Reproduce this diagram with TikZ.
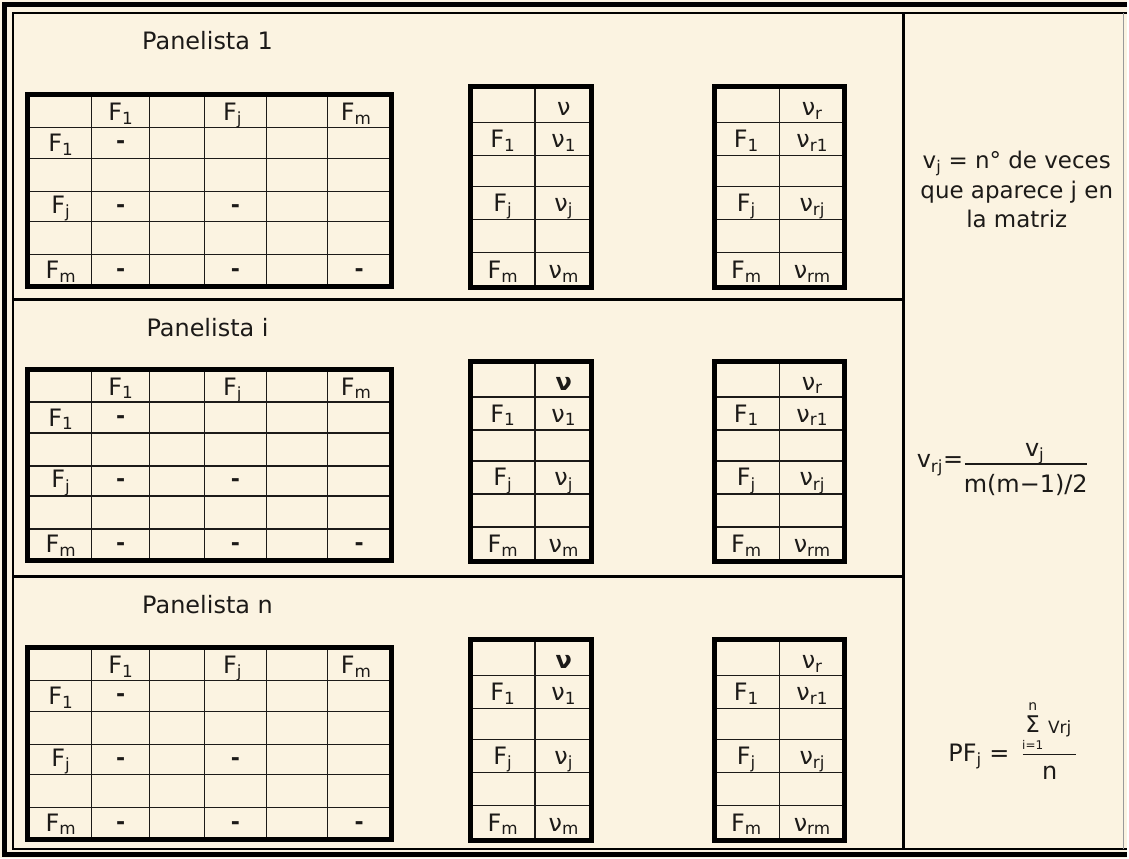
\documentclass[tikz,border=0pt]{standalone}
\usepackage{fontspec}
\usepackage{amsmath}
\setmainfont{DejaVu Sans}
\usetikzlibrary{positioning}
\definecolor{parchment}{RGB}{251,243,225}
\definecolor{ink}{RGB}{28,26,24}
\newcommand{\sub}[1]{\ensuremath{_{\text{#1}}}}

\begin{document}
\begin{tikzpicture}[
    x=1pt, y=-1pt,
    font=\fontsize{24}{30}\selectfont,
    cell/.style={anchor=base, inner sep=0pt, text=ink},
    dashmark/.style={cell, font=\fontsize{22}{29}\selectfont\bfseries},
    title/.style={anchor=base, inner sep=0pt, text=ink},
    note/.style={align=center, inner sep=0pt, text=ink, font=\fontsize{23}{29.5}\selectfont},
    gridline/.style={line width=1.4pt, ink},
    boxline/.style={line width=5pt, black},
    divider/.style={line width=2.5pt, black}
  ]

    % --- Background and frame ---
    \fill[parchment] (0,0) rectangle (1129,860);
    \draw[line width=5pt, black] (1129,5) -- (5,5) -- (5,856) -- (1129,856);
    \draw[line width=2.5pt, black] (1129,13) -- (13,13) -- (13,851) -- (1129,851);
    \draw[line width=1pt, black!40] (1126,13) -- (1126,851);

    % --- Dividers ---
    \draw[line width=3pt, black] (905,13) -- (905,851);
    \draw[divider] (13,300) -- (905,300);
    \draw[divider] (13,578) -- (905,578);

    % --- Panels ---
    \foreach \dy/\ty/\pn/\nuhead in {0/50/1/{ν}, 275/337/i/{\textbf{ν}}, 554/615/n/{\textbf{ν}}} {

      % Title
      \node[title] (title-\pn) at (208,\ty) {Panelista \pn};

      % Comparison matrix
      \foreach \cx in {92,150,205,267,328}
        \draw[gridline] (\cx,95+\dy) -- (\cx,287+\dy);
      \foreach \ry in {128,159,192,222,255}
        \draw[gridline] (28,\ry+\dy) -- (392,\ry+\dy);
      \draw[boxline] (28,95+\dy) rectangle (392,287+\dy);

      \foreach \s/\cx in {1/121, j/233, m/357}
        \node[cell] (mh-\pn-\s) at (\cx,121+\dy) {F\sub{\s}};
      \foreach \s/\ry in {1/152, j/214, m/279}
        \node[cell] (mr-\pn-\s) at (61,\ry+\dy) {F\sub{\s}};
      \foreach \k/\cx/\ry in {a/121/149, b/121/213, c/236/213, d/121/277, e/236/277, f/360/277}
        \node[dashmark] (md-\pn-\k) at (\cx,\ry+\dy) {-};

      % Count table
      \draw[gridline] (536,87+\dy) -- (536,288+\dy);
      \foreach \ry in {123,156,187,220,253}
        \draw[gridline] (472,\ry+\dy) -- (593,\ry+\dy);
      \draw[boxline] (472,87+\dy) rectangle (593,288+\dy);
      \node[cell] (vh-\pn) at (565,116+\dy) {\nuhead};
      \foreach \s/\ry in {1/148, j/212, m/279} {
        \node[cell] (vl-\pn-\s) at (504,\ry+\dy) {F\sub{\s}};
        \node[cell] (vv-\pn-\s) at (565,\ry+\dy) {ν\sub{\s}};
      }

      % Relative count table
      \draw[gridline] (781,87+\dy) -- (781,288+\dy);
      \foreach \ry in {123,156,187,220,253}
        \draw[gridline] (716,\ry+\dy) -- (846,\ry+\dy);
      \draw[boxline] (716,87+\dy) rectangle (846,288+\dy);
      \node[cell] (rh-\pn) at (814,116+\dy) {ν\sub{r}};
      \foreach \s/\ry in {1/148, j/212, m/279} {
        \node[cell] (rl-\pn-\s) at (748,\ry+\dy) {F\sub{\s}};
        \node[cell] (rv-\pn-\s) at (814,\ry+\dy) {ν\sub{r\s}};
      }
    }

    % --- Definition of v_j ---
    \node[note] (vjdef) at (1019,190)
    {v\sub{j} = n° de veces\\que aparece j en\\la matriz};

    % --- Relative count formula ---
    \node[cell] (vrjlhs) at (942,469) {v\sub{rj}=};
    \node[cell] (vrjnum) at (1037,457) {v\sub{j}};
    \draw[line width=1.3pt, ink] (967,465) -- (1089,465);
    \node[cell] (vrjden) at (1028,494) {m(m−1)/2};

    % --- Preference formula ---
    \node[cell] (pflhs) at (981,763) {PF\sub{j} =};
    \node[cell, font=\fontsize{23}{23}\selectfont] (pfsum) at (1035,734) {Σ};
    \node[cell, font=\fontsize{14}{14}\selectfont] (pftop) at (1035,712) {n};
    \node[cell, font=\fontsize{12}{12}\selectfont] (pfbot) at (1035,751) {i=1};
    \node[cell, font=\fontsize{17}{17}\selectfont] (pfvrj) at (1062,735) {Vrj};
    \draw[line width=1.3pt, ink] (1025,756) -- (1078,756);
    \node[cell] (pfden) at (1052,781) {n};

  \end{tikzpicture}
\end{document}
